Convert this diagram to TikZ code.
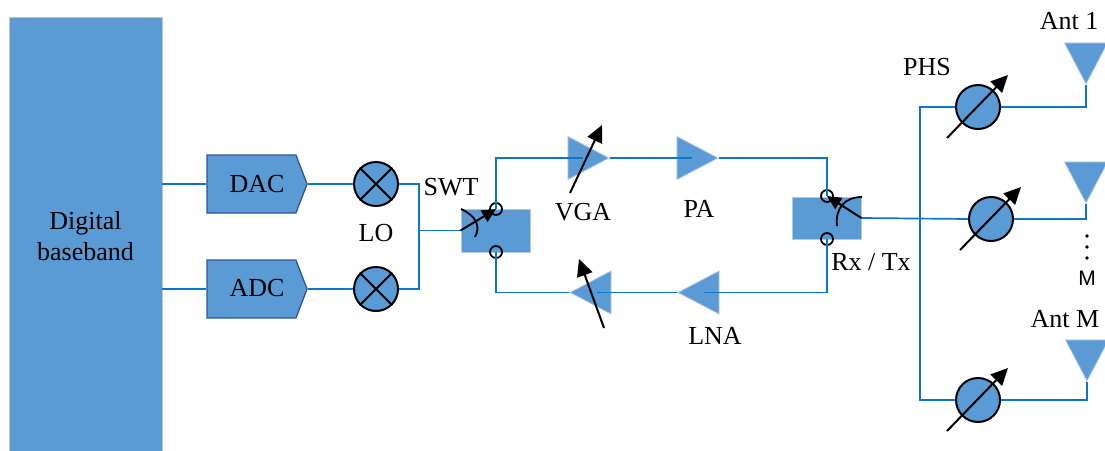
\documentclass[tikz,border=0pt]{standalone}
\usepackage{fontspec}
\setmainfont{Liberation Serif}
\setsansfont{Liberation Sans}
\usepackage{xcolor}
\usepackage{tikz}
\usetikzlibrary{shapes.geometric,shapes.symbols,arrows.meta,calc}
\definecolor{blockblue}{HTML}{5B9BD5}
\definecolor{wireblue}{HTML}{0F75C8}
\definecolor{edgeblue}{HTML}{2F5597}
\definecolor{paleedge}{HTML}{B4C7DC}

\begin{document}
\begin{tikzpicture}[x=1pt,y=-1pt,
		every node/.style={font=\fontsize{26}{31}\selectfont},
		wire/.style={draw=wireblue,line width=1.7pt},
		flat/.style={rectangle,fill=blockblue,draw=paleedge,line width=0.8pt,inner sep=0pt},
		conv/.style={signal,signal to=east,signal pointer angle=138,fill=blockblue,draw=edgeblue,line width=1.3pt,minimum width=100pt,minimum height=58pt,inner sep=0pt},
		round/.style={circle,fill=blockblue,draw=black,line width=2pt,minimum size=44pt,inner sep=0pt},
		port/.style={circle,draw=black,line width=1.8pt,minimum size=12pt,inner sep=0pt},
		amp/.style={isosceles triangle,isosceles triangle stretches,fill=blockblue,draw=paleedge,line width=0.8pt,minimum width=43pt,minimum height=41pt,inner sep=0pt,anchor=apex},
		tune/.style={draw=black,line width=2pt,-{Triangle[length=17pt,width=16pt]}},
		dot/.style={circle,fill=black,inner sep=0pt,minimum size=3.6pt}]
	\useasboundingbox (0,0) rectangle (1105,450);
	\clip (0,0) rectangle (1105,450);

	\node[flat,minimum width=153pt,minimum height=438pt,align=center] (baseband) at (85.5,236) {Digital\\baseband};

	\node[conv] (dac) at (251.5,184) {};
	\node[conv] (adc) at (251.5,289) {};
	\node (daclabel) at (257,184) {DAC};
	\node (adclabel) at (257,288) {ADC};
	\node[round] (mixd) at (376,184) {};
	\node[round] (mixa) at (376,289) {};
	\node (lo) at (376,233) {LO};

	\node[flat,minimum width=69pt,minimum height=43pt] (swt) at (495.5,230.5) {};
	\node[flat,minimum width=69pt,minimum height=42pt] (rxtx) at (826.5,218) {};

	\node[amp] (vga) at (610,158) {};
	\node[amp] (pa) at (719,158) {};
	\node[amp,shape border rotate=180] (lna) at (677,292.5) {};
	\node[amp,shape border rotate=180] (atn) at (569,292.5) {};

	\foreach \n/\x/\y in {1/1086/85,2/1086/204,3/1087/382}
		\node[amp,shape border rotate=270] (ant\n) at (\x,\y) {};

	\node[port] (swtup) at (496,209) {};
	\node[port] (swtdn) at (496,252) {};
	\node[port] (rxup) at (827,196) {};
	\node[port] (rxdn) at (827,239) {};

	\foreach \n/\x/\y in {1/978/107,2/991/219,3/978/400} {
		\node[round] (phs\n) at (\x,\y) {};
		\coordinate (tail\n) at (\x-31,\y+31);
		\coordinate (head\n) at (\x+30,\y-32);
	}

	\coordinate (bus) at (419,230.5);
	\coordinate (feed) at (920,107);
	\coordinate (vgatail) at (570,193);
	\coordinate (vgahead) at (602,125);
	\coordinate (atntail) at (604,328);
	\coordinate (atnhead) at (579,259);

	\draw[wire] (baseband.east |- dac.west) -- (dac.west);
	\draw[wire] (baseband.east |- adc.west) -- (adc.west);
	\draw[wire] (dac.east) -- (mixd.west);
	\draw[wire] (adc.east) -- (mixa.west);
	\draw[wire] (mixd.east) -| (bus);
	\draw[wire] (mixa.east) -| (bus);
	\draw[wire] (bus) -- (swt.west);
	\draw[wire] (swtup.center) |- ($(vga.lower side)+(15,0)$);
	\draw[wire] (vga.apex) -- ($(pa.lower side)+(15,0)$);
	\draw[wire] (pa.apex) -| (rxup.center);
	\draw[wire] (rxdn.center) |- ($(lna.lower side)+(-15,0)$);
	\draw[wire] (lna.apex) -- ($(atn.lower side)+(-14,0)$);
	\draw[wire] (atn.apex) -| (swtdn.center);
	\draw[wire] (rxtx.east) -- (phs2.west);
	\draw[wire] (phs1.west) -- (feed) |- (phs3.west);
	\draw[wire] (phs1.east) -| (ant1.apex);
	\draw[wire] (phs2.east) -| (ant2.apex);
	\draw[wire] (phs3.east) -| (ant3.apex);

	\draw[draw=black,line width=2pt] (mixd.45) -- (mixd.225) (mixd.135) -- (mixd.315);
	\draw[draw=black,line width=2pt] (mixa.45) -- (mixa.225) (mixa.135) -- (mixa.315);

	\draw[tune] (vgatail) -- (vgahead);
	\draw[tune] (atntail) -- (atnhead);
	\foreach \n in {1,2,3}
		\draw[tune] (tail\n) -- (head\n);

	\draw[tune,-{Triangle[length=14pt,width=13pt]}] (swt.west) -- (swtup.center);
	\draw[line width=1.8pt] (461,209) .. controls (476,216) and (481,226) .. (475,237);
	\draw[tune,-{Triangle[length=14pt,width=13pt]}] (rxtx.east) -- (rxup.center);
	\draw[line width=1.8pt] (862,197) .. controls (845,197) and (835,208) .. (837,226);

	\node (swtlabel) at (451,187) {SWT};
	\node (vgalabel) at (583,212) {VGA};
	\node (palabel) at (699,209) {PA};
	\node (lnalabel) at (715,336) {LNA};
	\node (rxlabel) at (871,262) {Rx / Tx};
	\node (phslabel) at (927,67) {PHS};
	\node (ant1label) at (1069,21) {Ant 1};
	\node (antmlabel) at (1065,319) {Ant M};

	\foreach \y in {236,247,258}
		\node[dot] (dot\y) at (1087,\y) {};
	\node[font=\fontsize{21}{23}\selectfont\sffamily] (mlabel) at (1087,278) {M};
\end{tikzpicture}
\end{document}
